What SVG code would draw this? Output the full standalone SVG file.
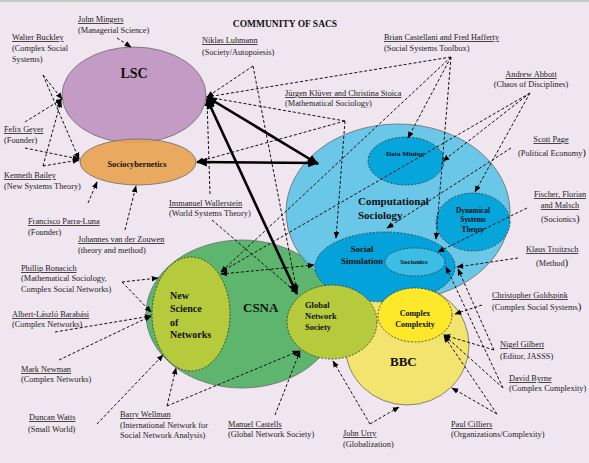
<svg xmlns="http://www.w3.org/2000/svg" width="589" height="463" viewBox="0 0 589 463">
<defs>
<style>
.t{font-family:"Liberation Serif","Times New Roman",serif;font-size:8.3px;fill:#222}
.u{text-decoration:underline}
.b{font-family:"Liberation Serif","Times New Roman",serif;font-weight:bold;fill:#111}
.d{fill:none;stroke:#111;stroke-width:1;stroke-dasharray:3 2;marker-end:url(#a)}
.dd{marker-start:url(#a)}
.k{fill:none;stroke:#000;stroke-width:2.6;marker-end:url(#h);marker-start:url(#h)}
.big{stroke:#6a6a6a;stroke-width:0.8}
.in{stroke:#333;stroke-width:0.8;stroke-dasharray:2 1.5}
</style>
<marker id="a" viewBox="0 0 10 10" refX="9" refY="5" markerWidth="7" markerHeight="7" orient="auto-start-reverse" markerUnits="userSpaceOnUse"><path d="M0,1 L10,5 L0,9 z" fill="#000"/></marker>
<marker id="h" viewBox="0 0 10 10" refX="9" refY="5" markerWidth="11" markerHeight="11" orient="auto-start-reverse" markerUnits="userSpaceOnUse"><path d="M0,1 L10,5 L0,9 z" fill="#000"/></marker>
</defs>
<rect width="589" height="463" fill="#F0E6F0"/>
<rect width="589" height="2" fill="#C9C9C9"/>

<g id="lsc"><ellipse cx="134" cy="95" rx="72" ry="48" fill="#C39BC4" class="big"/><text class="b" x="134" y="78" font-size="14" text-anchor="middle">LSC</text></g>
<g id="sociocybernetics"><ellipse cx="138" cy="162" rx="58" ry="23" fill="#E8A552" fill-opacity="0.92" class="big"/><text class="b" x="137" y="167" font-size="8.3" text-anchor="middle">Sociocybernetics</text></g>
<g id="csna"><ellipse cx="242" cy="314" rx="96" ry="74" fill="#5DB56E" class="big"/><text class="b" x="243" y="312" font-size="13">CSNA</text></g>
<g id="compsoc"><ellipse cx="398" cy="212" rx="112" ry="88" fill="#5CC3E6" fill-opacity="0.9" class="big"/><text class="b" x="358" y="205" font-size="11">Computational</text><text class="b" x="358" y="219" font-size="11">Sociology</text></g>
<g id="bbc"><ellipse cx="407" cy="345" rx="62" ry="60" fill="#F3E35C" fill-opacity="0.88" class="big"/><text class="b" x="390" y="366" font-size="13">BBC</text></g>
<g id="datamining"><ellipse cx="406" cy="161" rx="38" ry="24" fill="#06A5DC" class="in"/><text class="b" x="405" y="156" font-size="7" text-anchor="middle">Data Mining</text></g>
<g id="dynamical"><ellipse cx="473" cy="222" rx="37" ry="29" fill="#06A5DC" class="in"/><text class="b" x="473" y="213" font-size="7.4" text-anchor="middle">Dynamical</text><text class="b" x="473" y="222" font-size="7.4" text-anchor="middle">Systems</text><text class="b" x="473" y="232" font-size="7.4" text-anchor="middle">Theory</text></g>
<g id="socialsim"><ellipse cx="385" cy="267" rx="70" ry="35" fill="#03A2DB" class="in"/><text class="b" x="362" y="252" font-size="9" text-anchor="middle">Social</text><text class="b" x="362" y="264" font-size="9" text-anchor="middle">Simulation</text></g>
<g id="socionics"><ellipse cx="415" cy="262" rx="30" ry="14" fill="#3CBDE6" class="in"/><text class="b" x="414" y="264" font-size="7" text-anchor="middle">Socionics</text></g>
<g id="nsn"><ellipse cx="191" cy="314" rx="39" ry="57" fill="#B5CB3C" class="in"/><text class="b" x="170" y="299" font-size="10">New</text><text class="b" x="170" y="312" font-size="10">Science</text><text class="b" x="170" y="326" font-size="10">of</text><text class="b" x="170" y="338" font-size="10">Networks</text></g>
<g id="gns"><ellipse cx="332" cy="322" rx="45" ry="37" fill="#B5CB3C" class="in"/><text class="b" x="305" y="308" font-size="8.5">Global</text><text class="b" x="305" y="319" font-size="8.5">Network</text><text class="b" x="305" y="330" font-size="8.5">Society</text></g>
<g id="cc"><ellipse cx="415" cy="315" rx="37" ry="27" fill="#FDE82A" class="in"/><text class="b" x="415" y="316" font-size="8" text-anchor="middle">Complex</text><text class="b" x="415" y="327" font-size="8" text-anchor="middle">Complexity</text></g>

<g id="connectors">
<path class="d" d="M117,38 L131,47"/>
<path class="d" d="M43,75 L62,99"/>
<path class="d" d="M43,75 L79,159"/>
<path class="d" d="M25,122 L62,99"/>
<path class="d" d="M25,148 L79,159"/>
<path class="d" d="M43,166 L61,101"/>
<path class="d" d="M43,166 L79,160"/>
<path class="d" d="M88,203 L97,182"/>
<path class="d" d="M125,230 L136,186"/>
<path class="d" d="M253,66 L207,97"/>
<path class="d" d="M253,66 L297,292"/>
<path class="d" d="M451,57 L207,97"/>
<path class="d" d="M451,57 L408,138"/>
<path class="d" d="M451,57 L221,272"/>
<path class="d" d="M451,57 L436,239"/>
<path class="d" d="M345,121 L207,97"/>
<path class="d" d="M345,121 L197,162"/>
<path class="d" d="M345,121 L336,238"/>
<path class="d" d="M210,194 L207,100"/>
<path class="d" d="M212,220 L297,293"/>
<path class="d" d="M530,93 L443,161"/>
<path class="d" d="M530,93 L475,192"/>
<path class="d" d="M530,93 L221,272"/>
<path class="d" d="M511,148 L387,228"/>
<path class="d" d="M527,208 L438,252"/>
<path class="d" d="M518,258 L457,267"/>
<path class="d dd" d="M221,274 L314,265"/>
<path class="d" d="M482,305 L455,314"/>
<path class="d" d="M494,350 L444,335"/>
<path class="d" d="M494,350 L458,269"/>
<path class="d" d="M503,388 L444,335"/>
<path class="d" d="M503,388 L446,267"/>
<path class="d" d="M497,414 L444,336"/>
<path class="d" d="M497,414 L452,388"/>
<path class="d" d="M370,424 L333,361"/>
<path class="d" d="M370,424 L399,407"/>
<path class="d" d="M275,415 L300,351"/>
<path class="d" d="M167,406 L176,368"/>
<path class="d" d="M167,406 L299,351"/>
<path class="d" d="M97,424 L163,355"/>
<path class="d" d="M59,360 L151,316"/>
<path class="d" d="M55,332 L151,316"/>
<path class="d" d="M122,282 L151,312"/>
<path class="d" d="M122,282 L158,278"/>
<path class="k" d="M207,97 L318,164"/>
<path class="k" d="M207,99 L297,294"/>
<path class="k" d="M197,162 L318,163"/>
</g>

<g id="labels">
<text class="b" x="285" y="27" font-size="9.5" text-anchor="middle">COMMUNITY OF SACS</text>
<text class="t u" x="78" y="22">John Mingers</text><text class="t" x="78" y="33">(Managerial Science)</text>
<text class="t u" x="12" y="40">Walter Buckley</text><text class="t" x="12" y="51">(Complex Social</text><text class="t" x="12" y="62">Systems)</text>
<text class="t u" x="202" y="43" font-size="10">Niklas Luhmann</text><text class="t" x="202" y="55" font-size="10">(Society/Autopoiesis)</text>
<text class="t u" x="384" y="40">Brian Castellani and Fred Hafferty</text><text class="t" x="384" y="51">(Social Systems Toolbox)</text>
<text class="t u" x="285" y="96">Jürgen Klüver and Christina Stoica</text><text class="t" x="285" y="106">(Mathematical Sociology)</text>
<text class="t u" x="531" y="77" text-anchor="middle">Andrew Abbott</text><text class="t" x="531" y="87" text-anchor="middle">(Chaos of Disciplines)</text>
<text class="t u" x="551" y="142" text-anchor="middle">Scott Page</text><text class="t" x="518" y="156">(Political Economy<tspan font-size="11">)</tspan></text>
<text class="t u" x="4" y="132">Felix Geyer</text><text class="t" x="4" y="143">(Founder)</text>
<text class="t u" x="4" y="178">Kenneth Bailey</text><text class="t" x="4" y="189">(New Systems Theory)</text>
<text class="t u" x="28" y="224">Francisco Parra-Luna</text><text class="t" x="28" y="235">(Founder)</text>
<text class="t u" x="78" y="242">Johannes van der Zouwen</text><text class="t" x="78" y="253">(theory and method)</text>
<text class="t u" x="169" y="206">Immanuel Wallerstein</text><text class="t" x="169" y="216">(World Systems Theory)</text>
<text class="t u" x="560" y="197" text-anchor="middle">Fischer, Florian</text><text class="t u" x="560" y="208" text-anchor="middle">and Malsch</text><text class="t" x="541" y="222">(Socionics<tspan font-size="11">)</tspan></text>
<text class="t u" x="526" y="252">Klaus Troitzsch</text><text class="t" x="536" y="266">(Method<tspan font-size="11">)</tspan></text>
<text class="t u" x="21" y="271">Phillip Bonacich</text><text class="t" x="21" y="281">(Mathematical Sociology,</text><text class="t" x="21" y="292">Complex Social Networks)</text>
<text class="t u" x="492" y="298">Christopher Goldspink</text><text class="t" x="492" y="310">(Complex Social Systems<tspan font-size="11">)</tspan></text>
<text class="t u" x="12" y="317" font-size="9">Albert-László Barabási</text><text class="t" x="12" y="327">(Complex Networks)</text>
<text class="t u" x="500" y="347" font-size="10">Nigel Gilbert</text><text class="t" x="500" y="359" font-size="10">(Editor, JASSS)</text>
<text class="t u" x="21" y="372">Mark Newman</text><text class="t" x="21" y="382">(Complex Networks)</text>
<text class="t u" x="509" y="381">David Byrne</text><text class="t" x="509" y="391">(Complex Complexity)</text>
<text class="t u" x="120" y="417">Barry Wellman</text><text class="t" x="120" y="428">(International Network for</text><text class="t" x="120" y="438">Social Network Analysis)</text>
<text class="t u" x="29" y="420" font-size="10">Duncan Watts</text><text class="t" x="28" y="432" font-size="10">(Small World)</text>
<text class="t u" x="228" y="427">Manuel Castells</text><text class="t" x="228" y="437">(Global Network Society)</text>
<text class="t u" x="451" y="427">Paul Cilliers</text><text class="t" x="451" y="437">(Organizations/Complexity)</text>
<text class="t u" x="343" y="436">John Urry</text><text class="t" x="343" y="447">(Globalization)</text>
</g>
</svg>
